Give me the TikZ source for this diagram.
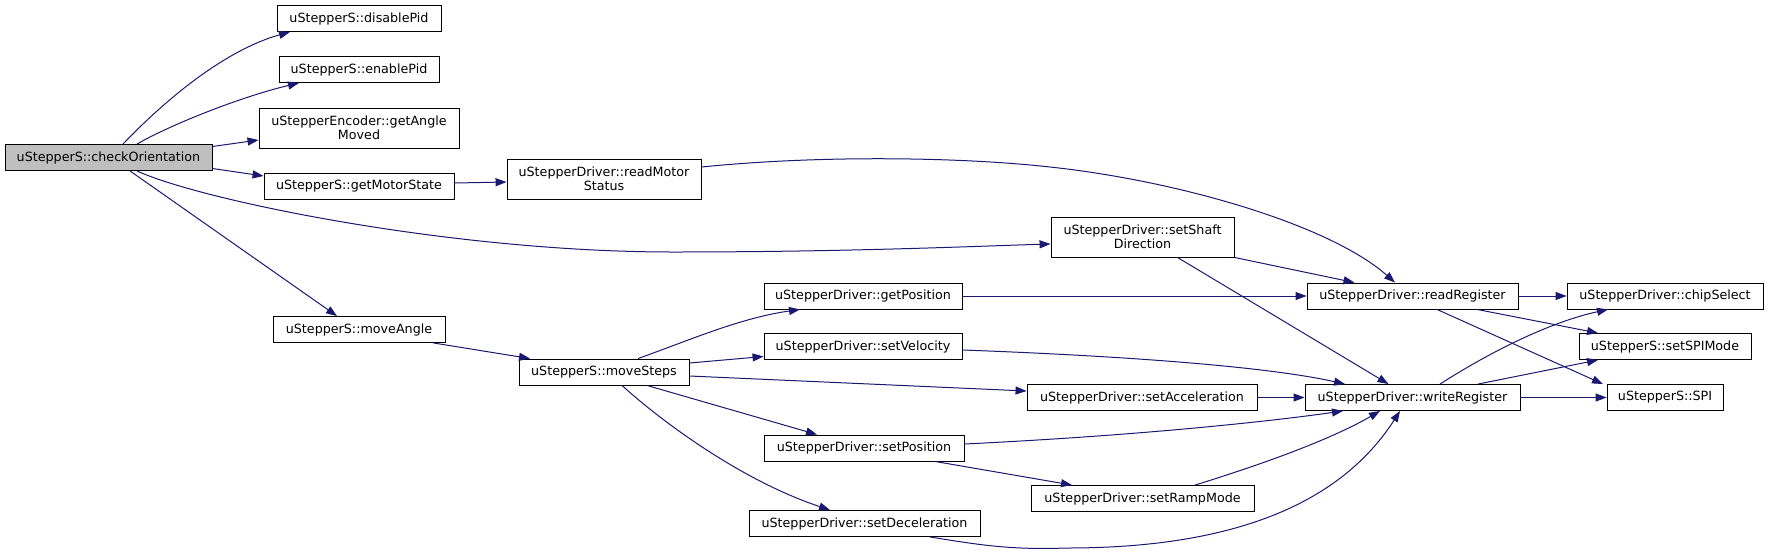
\documentclass[tikz,border=0pt]{standalone}
\usepackage{fontspec}
\setmainfont{DejaVu Sans}
\usetikzlibrary{arrows.meta}
\definecolor{edgeblue}{HTML}{191970}
\definecolor{hilite}{HTML}{BFBFBF}

\begin{document}
\begin{tikzpicture}[x=1pt, y=-1pt,
  fn/.style={draw=black, line width=0.9pt, rectangle, inner sep=0pt, minimum height=26, align=center, font=\fontsize{12.7}{14.5}\selectfont},
  call/.style={draw=edgeblue, line width=1pt, -{Triangle[length=11pt,width=8pt]}}]
  \useasboundingbox (0,0) rectangle (1768,555);

  % functions
  \node[fn, fill=hilite, minimum width=207] (co) at (108.5,157.5) {uStepperS::checkOrientation};
  \node[fn, minimum width=164] (dp) at (359,18.5) {uStepperS::disablePid};
  \node[fn, minimum width=160] (ep) at (359,69.5) {uStepperS::enablePid};
  \node[fn, minimum width=200, minimum height=40] (gam) at (359,128) {uStepperEncoder::getAngle\\Moved};
  \node[fn, minimum width=190] (gms) at (359,186) {uStepperS::getMotorState};
  \node[fn, minimum width=172] (ma) at (359,329.5) {uStepperS::moveAngle};
  \node[fn, minimum width=194, minimum height=40] (rms) at (604,179) {uStepperDriver::readMotor\\Status};
  \node[fn, minimum width=170] (ms) at (604,372) {uStepperS::moveSteps};
  \node[fn, minimum width=183, minimum height=40] (ssd) at (1142.5,237) {uStepperDriver::setShaft\\Direction};
  \node[fn, minimum width=198] (gp) at (863,296) {uStepperDriver::getPosition};
  \node[fn, minimum width=198] (sv) at (863,346.5) {uStepperDriver::setVelocity};
  \node[fn, minimum width=200] (sp) at (864,448) {uStepperDriver::setPosition};
  \node[fn, minimum width=231] (sd) at (864.5,523.5) {uStepperDriver::setDeceleration};
  \node[fn, minimum width=230] (sa) at (1142,397.5) {uStepperDriver::setAcceleration};
  \node[fn, minimum width=223] (srm) at (1142.5,498.5) {uStepperDriver::setRampMode};
  \node[fn, minimum width=211] (rr) at (1412.5,296) {uStepperDriver::readRegister};
  \node[fn, minimum width=215] (wr) at (1412.5,397.5) {uStepperDriver::writeRegister};
  \node[fn, minimum width=196] (cs) at (1665,296) {uStepperDriver::chipSelect};
  \node[fn, minimum width=172] (spim) at (1665,346.5) {uStepperS::setSPIMode};
  \node[fn, minimum width=116] (spi) at (1665,397.5) {uStepperS::SPI};

  % calls
  \draw[call] ([xshift=14.5pt]co.north) .. controls (165,100) and (225,50) .. ([xshift=-69pt]dp.south);
  \draw[call] ([xshift=28.5pt]co.north) .. controls (170,125) and (240,97) .. ([xshift=-60pt]ep.south);
  \draw[call] ([yshift=11pt]co.east) -- ([yshift=-12pt]gam.west);
  \draw[call] ([yshift=-11pt]co.east) -- ([yshift=10pt]gms.west);
  \draw[call] ([xshift=28.5pt]co.south) .. controls (200,200) and (450,252) .. (673,252) .. controls (850,252) and (980,246) .. ([yshift=-7pt]ssd.west);
  \draw[call] ([xshift=21.5pt]co.south) -- ([xshift=-22pt]ma.north);
  \draw[call] ([yshift=3pt]gms.east) -- ([yshift=-3pt]rms.west);
  \draw[call] ([yshift=12pt]rms.east) .. controls (820,155) and (960,157) .. (1050,167) .. controls (1180,181) and (1330,225) .. ([xshift=-17.5pt]rr.north);
  \draw[call] (ssd.south east) -- ([xshift=-58pt]rr.north);
  \draw[call] ([xshift=35pt]ssd.south) -- ([xshift=-24pt]wr.north);
  \draw[call] ([xshift=-12pt]ma.south east) -- ([xshift=-74pt]ms.north);
  \draw[call] ([xshift=34pt]ms.north) .. controls (690,340) and (740,318) .. ([xshift=-63pt]gp.south);
  \draw[call] ([yshift=9pt]ms.east) -- ([yshift=-10pt]sv.west);
  \draw[call] ([yshift=-4pt]ms.east) -- ([yshift=6.5pt]sa.west);
  \draw[call] ([xshift=43pt]ms.south) -- ([xshift=-47pt]sp.north);
  \draw[call] ([xshift=18pt]ms.south) .. controls (660,420) and (740,480) .. ([xshift=-34.5pt]sd.north);
  \draw[call] (gp) -- (rr);
  \draw[call] ([yshift=-3.5pt]sv.east) .. controls (1100,355) and (1260,365) .. ([xshift=-67.5pt]wr.north);
  \draw[call] (sa) -- (wr);
  \draw[call] ([yshift=4pt]sp.east) .. controls (1150,435) and (1280,420) .. ([xshift=-69.5pt]wr.south);
  \draw[call] ([xshift=71pt]sp.south) -- ([xshift=-70.5pt]srm.north);
  \draw[call] ([xshift=52.5pt]srm.north) .. controls (1260,465) and (1330,440) .. ([xshift=-32.5pt]wr.south);
  \draw[call] ([xshift=65.5pt]sd.south) .. controls (980,545) and (1010,550) .. (1067,548) .. controls (1200,548) and (1330,520) .. ([xshift=-12.5pt]wr.south);
  \draw[call] (rr) -- (cs);
  \draw[call] ([xshift=64.5pt]rr.south) -- ([xshift=-67pt]spim.north);
  \draw[call] ([xshift=24.5pt]rr.south) -- ([xshift=-62pt]spi.north);
  \draw[call] ([xshift=27.5pt]wr.north) .. controls (1490,352) and (1550,322) .. ([xshift=-57pt]cs.south);
  \draw[call] ([xshift=65.5pt]wr.north) -- ([xshift=-67pt]spim.south);
  \draw[call] (wr) -- (spi);
\end{tikzpicture}
\end{document}
